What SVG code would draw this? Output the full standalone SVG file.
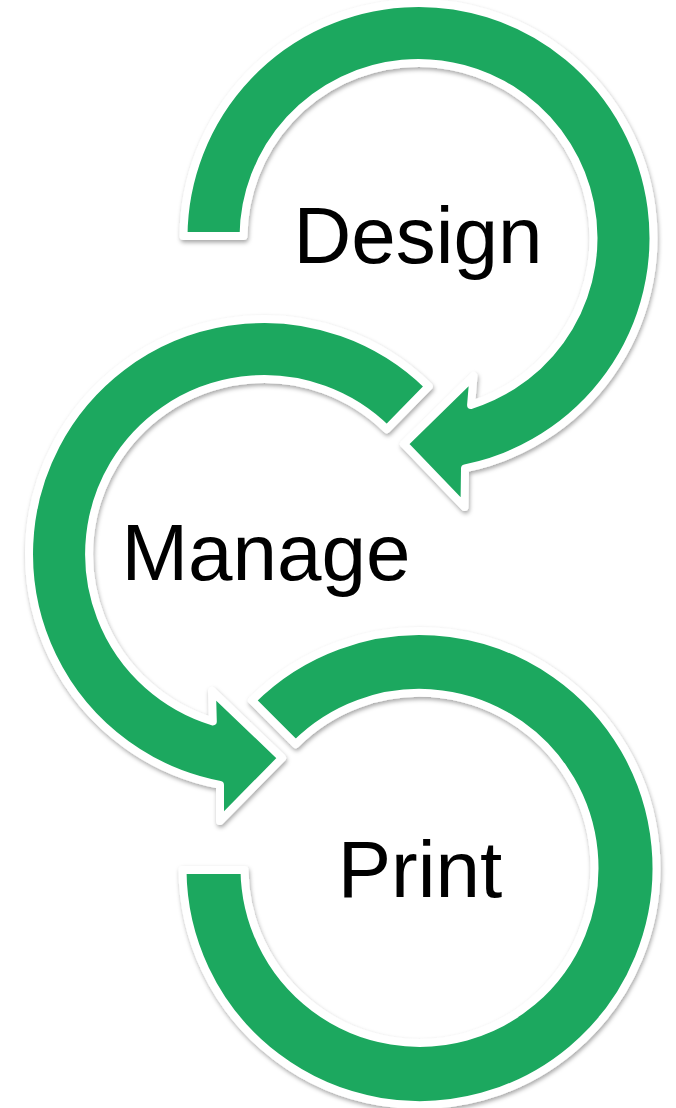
<svg xmlns="http://www.w3.org/2000/svg" width="676" height="1108" viewBox="0 0 676 1108">
  <style>
    .arrow { fill: #1ba85f; stroke: #ffffff; stroke-width: 8; stroke-linejoin: round; filter: url(#shadow); }
    .label { font-family: "Liberation Sans", Arial, sans-serif; font-size: 80px; fill: #000000; text-anchor: middle; }
  </style>
  <defs>
    <filter id="shadow" x="-10%" y="-10%" width="120%" height="120%">
      <feDropShadow dx="1" dy="2.5" stdDeviation="2" flood-color="#000000" flood-opacity="0.35"/>
    </filter>
  </defs>
  <rect width="676" height="1108" fill="#ffffff"/>
  <g id="connectors">
    <g id="print-ring">
      <path class="arrow" d="M 252 700.4 A 237 237 0 1 1 182.5 870 L 244.5 870 A 175 175 0 1 0 295.7 744.2 Z"/>
    </g>
    <g id="manage-arrow">
      <path class="arrow" d="M 428.7 386.4 A 235 235 0 1 0 220 784.9 L 220 821 L 282 758 L 212 691 L 212.8 721.4 A 175 175 0 1 1 386.7 429.2 Z"/>
    </g>
    <g id="design-arrow">
      <path class="arrow" d="M 183.5 236 A 235 235 0 1 1 465 468.3 L 464.5 507 L 404 444 L 473.5 376 L 471.1 404.9 A 175 175 0 1 0 243.5 236 Z"/>
    </g>
  </g>
  <g id="node-design">
    <text class="label" x="418" y="263">Design</text>
  </g>
  <g id="node-manage">
    <text class="label" x="266" y="580">Manage</text>
  </g>
  <g id="node-print">
    <text class="label" x="420" y="897">Print</text>
  </g>
</svg>
